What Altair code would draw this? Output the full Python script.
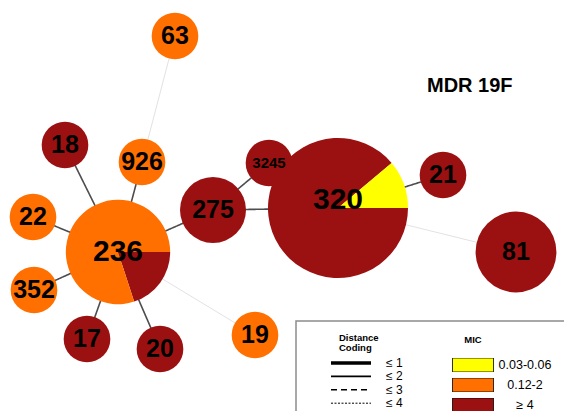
import math
import altair as alt
import pandas as pd

# ---------------- data ----------------
st = ["320", "236", "275", "81", "926", "63", "18", "22", "352", "17", "20", "19", "3245", "21"]
mic_low = [1, 0, 0, 0, 0, 0, 0, 0, 0, 0, 0, 0, 0, 0]    # 0.03-0.06
mic_mid = [0, 4, 0, 0, 1, 1, 0, 1, 1, 0, 0, 1, 0, 0]    # 0.12-2
mic_high = [8, 1, 2, 3, 0, 0, 1, 0, 0, 1, 1, 0, 1, 1]   # >= 4

edge_from = ["236", "236", "236", "236", "236", "236", "236", "275", "275", "320"]
edge_to = ["18", "926", "22", "352", "17", "20", "275", "320", "3245", "21"]
edge_dist = ["≤ 2"] * 10
faint_from = ["926", "236", "320"]
faint_to = ["63", "19", "81"]

mic_classes = ["0.03-0.06", "0.12-2", "≥ 4"]
dist_classes = ["≤ 1", "≤ 2", "≤ 3", "≤ 4"]

# ---------------- layout (figure pixel positions) ----------------
node_x = [338, 118, 213, 516, 142, 175, 65, 33, 34, 87, 160, 255, 269, 443]
node_y = [208, 252, 210, 252, 162, 36, 145, 217, 290, 339, 349, 335, 163, 175]
label_dy = [-8, 0, 0, 0, 0, 0, 0, 0, 0, 0, 0, 0, 0, 0]
label_size = [30, 30, 25, 25, 25, 25, 25, 25, 25, 25, 25, 25, 15, 25]

mic_colors = ["#FFFF00", "#FF7000", "#9B1111"]
FONT = "Liberation Sans"

# ---------------- tables ----------------
pos = {s: (x, y) for s, x, y in zip(st, node_x, node_y)}
totals = [a + b + c for a, b, c in zip(mic_low, mic_mid, mic_high)]

rows = []
for s, x, y, lo, mi, hi, tot in zip(st, node_x, node_y, mic_low, mic_mid, mic_high, totals):
    start = math.pi / 2
    for cls, cnt in (("≥ 4", hi), ("0.12-2", mi), ("0.03-0.06", lo)):
        if cnt == 0:
            continue
        end = start + 2 * math.pi * cnt / tot
        rows.append(dict(st=s, x=x, y=y, total=tot, mic=cls, t0=start, t1=end))
        start = end
pie_df = pd.DataFrame(rows)

lab_df = pd.DataFrame({
    "st": st,
    "x": node_x,
    "y": [y + d for y, d in zip(node_y, label_dy)],
    "fs": label_size,
})

edge_df = pd.DataFrame({
    "a": edge_from, "b": edge_to, "dist": edge_dist,
    "x": [pos[a][0] for a in edge_from], "y": [pos[a][1] for a in edge_from],
    "x2": [pos[b][0] for b in edge_to], "y2": [pos[b][1] for b in edge_to],
})
faint_df = pd.DataFrame({
    "x": [pos[a][0] for a in faint_from], "y": [pos[a][1] for a in faint_from],
    "x2": [pos[b][0] for b in faint_to], "y2": [pos[b][1] for b in faint_to],
})

box_df = pd.DataFrame({"x": [296], "x2": [620], "y": [321], "y2": [460]})
dist_title_df = pd.DataFrame({"text": ["Distance", "Coding"], "x": [339, 339], "y": [338, 348]})
mic_title_df = pd.DataFrame({"text": ["MIC"], "x": [473], "y": [340]})

xs = alt.Scale(domain=[8, 564], nice=False, zero=False)
ys = alt.Scale(domain=[8, 411], nice=False, zero=False, reverse=True)


def X(f="x"):
    return alt.X(f"{f}:Q", scale=xs, axis=None)


def Y(f="y"):
    return alt.Y(f"{f}:Q", scale=ys, axis=None)


faint = alt.Chart(faint_df).mark_rule(color="#e2e2e2", strokeWidth=1).encode(
    x=X(), y=Y(), x2="x2:Q", y2="y2:Q"
)

dist_legend = dict(
    orient="none", legendX=321, legendY=349, title=None, zindex=1,
    symbolType="stroke", symbolSize=1600, symbolStrokeColor="black",
    clipHeight=12, rowPadding=1.4, labelOffset=13, labelFontSize=12,
    labelFont=FONT, labelColor="black", padding=0,
)
edges = alt.Chart(edge_df).mark_rule(color="#4d4d4d").encode(
    x=X(), y=Y(), x2="x2:Q", y2="y2:Q",
    strokeDash=alt.StrokeDash(
        "dist:N",
        scale=alt.Scale(domain=dist_classes, range=[[1, 0], [1, 0], [6, 4], [2, 1.5]]),
        legend=alt.Legend(**dist_legend),
    ),
    strokeWidth=alt.StrokeWidth(
        "dist:N",
        scale=alt.Scale(type="ordinal", domain=dist_classes, range=[3.5, 1.6, 1.6, 1]),
        legend=alt.Legend(**dist_legend),
    ),
)

pies = alt.Chart(pie_df).mark_arc().encode(
    x=X(), y=Y(),
    theta=alt.Theta("t0:Q", scale=None),
    theta2="t1:Q",
    radius=alt.Radius("total:Q", scale=alt.Scale(type="sqrt", zero=True, domain=[0, 9], range=[0, 70])),
    color=alt.Color(
        "mic:N",
        scale=alt.Scale(domain=mic_classes, range=mic_colors),
        legend=alt.Legend(
            orient="none", legendX=444, legendY=350, title=None, zindex=1,
            symbolType="M-1,-0.34H1V0.34H-1Z", symbolSize=1681,
            symbolStrokeColor="black", symbolStrokeWidth=0.8, symbolOpacity=1,
            clipHeight=14, rowPadding=6, labelOffset=31, labelAlign="center",
            labelFontSize=12.5, labelFont=FONT, labelColor="black", padding=0,
        ),
    ),
)

labels = alt.Chart(lab_df).mark_text(
    font=FONT, fontWeight="bold", color="black", baseline="middle", align="center"
).encode(
    x=X(), y=Y(), text="st:N", size=alt.Size("fs:Q", scale=None)
)

box = alt.Chart(box_df).mark_rect(fill="white", stroke="#8c8c8c", strokeWidth=1.5).encode(
    x=X(), x2="x2:Q", y=Y(), y2="y2:Q"
)

dist_title = alt.Chart(dist_title_df).mark_text(
    font=FONT, fontWeight="bold", fontSize=9.5, color="black", baseline="middle", align="left"
).encode(x=X(), y=Y(), text="text:N")

mic_title = alt.Chart(mic_title_df).mark_text(
    font=FONT, fontWeight="bold", fontSize=9.5, color="black", baseline="middle", align="center"
).encode(x=X(), y=Y(), text="text:N")

chart = alt.layer(faint, edges, pies, labels, box, dist_title, mic_title).properties(
    width=556, height=403, padding=0, autosize="none",
    title=alt.TitleParams(
        "MDR 19F", anchor="start", frame="group", orient="top", offset=0,
        dx=419, dy=104, baseline="alphabetic", fontSize=20, font=FONT,
        fontWeight="bold", color="black",
    ),
).configure_view(stroke=None)

chart.save("out.html", embed_options={"renderer": "svg", "actions": False})
